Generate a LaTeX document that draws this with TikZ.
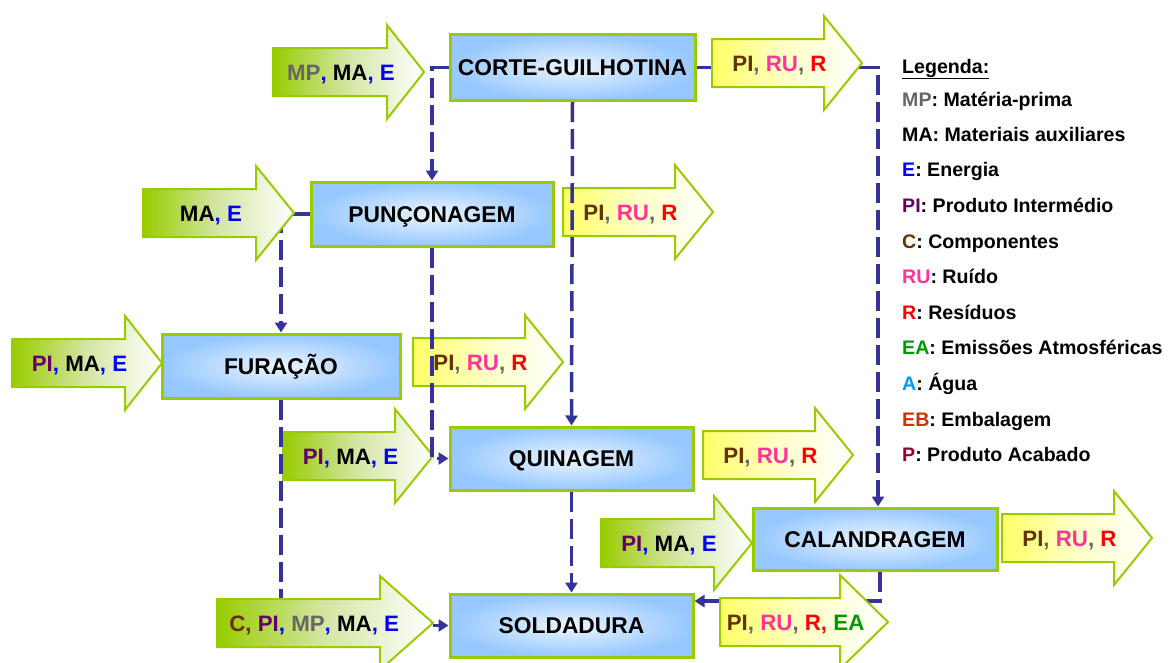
\documentclass[tikz,border=0pt]{standalone}
\usepackage{fontspec}
\setmainfont{Liberation Sans}
\usetikzlibrary{arrows.meta,calc}
\definecolor{bgreen}{RGB}{153,204,0}
\definecolor{midgreen}{RGB}{212,230,165}
\definecolor{lyellow}{RGB}{255,255,102}
\definecolor{myellow}{RGB}{255,255,200}
\definecolor{lblue}{RGB}{150,200,255}
\definecolor{cblue}{RGB}{236,245,255}
\definecolor{lineblue}{RGB}{51,51,153}
\definecolor{cgray}{RGB}{102,102,102}
\definecolor{cblu}{RGB}{0,0,255}
\definecolor{cpurple}{RGB}{102,0,102}
\definecolor{cbrown}{RGB}{102,51,0}
\definecolor{cpink}{RGB}{255,51,153}
\definecolor{cred}{RGB}{255,0,0}
\definecolor{cgreen}{RGB}{0,153,0}
\definecolor{cwater}{RGB}{0,153,255}
\definecolor{corange}{RGB}{204,51,0}
\definecolor{cwine}{RGB}{153,0,51}
\newcommand\cMP{\textcolor{cgray}{MP}}
\newcommand\cPIin{\textcolor{cpurple}{PI}}
\newcommand\cPIout{\textcolor{cbrown}{PI}}
\newcommand\cE{\textcolor{cblu}{E}}
\newcommand\bc{\textcolor{cblu}{,}}
\newcommand\gc{\textcolor{cgray}{,}}
\newcommand\cRU{\textcolor{cpink}{RU}}
\newcommand\cR{\textcolor{cred}{R}}
\newcommand\flowarr[7]{%
  \path[#2] (#3,#6-24) -- (#4,#6-24) -- (#4,#6-47) -- (#5,#6) -- (#4,#6+47) -- (#4,#6+24) -- (#3,#6+24) -- cycle;
  \node[arrtext] (#1) at ({#3+0.45*(#5-#3)},#6+8) {#7};}
\tikzset{
  x=1pt, y=-1pt,
  boxgeom/.style={inner sep=0pt, outer sep=1.5pt},
  procbox/.style={boxgeom, draw=bgreen, line width=3pt, shading=radial, inner color=cblue, outer color=lblue,
    font=\fontsize{22.8}{26}\selectfont\bfseries, text height=16.3pt, text depth=0pt},
  inarr/.style={draw=bgreen, line width=2pt, left color=bgreen, right color=white, middle color=midgreen},
  outarr/.style={draw=bgreen, line width=2pt, left color=lyellow, right color=white, middle color=myellow},
  arrtext/.style={anchor=base, font=\fontsize{22.3}{26}\selectfont\bfseries, inner sep=0pt},
  flow/.style={draw=lineblue, line width=3.5pt, dash pattern=on 20pt off 7pt, -{Triangle[length=10pt,width=12pt]}},
  legtext/.style={anchor=base west, inner sep=0pt, font=\fontsize{19.6}{22}\selectfont\bfseries}
}
\begin{document}
\begin{tikzpicture}
\useasboundingbox (0,0) rectangle (1171,662);
\path
  (572.5,67.5) coordinate (corteC)
  (432,214) coordinate (puncC)
  (281,366) coordinate (furC)
  (571.5,458.5) coordinate (quinC)
  (571.5,625.5) coordinate (soldC)
  (875,539) coordinate (calC);
% arrows beneath the connectors
\flowarr{ofur}{outarr}{413}{525}{563}{362}{\cPIout\gc{} \cRU\gc{} \cR}
\flowarr{opunc}{outarr}{563}{675}{713}{212}{\cPIout\gc{} \cRU\gc{} \cR}
\flowarr{iquin}{inarr}{283}{395}{433}{456}{\cPIin\bc{} MA\bc{} \cE}
% box anchors
\node[boxgeom, minimum width=245pt, minimum height=66pt] (corte) at (corteC) {};
\node[boxgeom, minimum width=242pt, minimum height=64pt] (punc) at (puncC) {};
\node[boxgeom, minimum width=238pt, minimum height=64pt] (fur) at (furC) {};
\node[boxgeom, minimum width=243pt, minimum height=63pt] (quin) at (quinC) {};
\node[boxgeom, minimum width=243pt, minimum height=63pt] (sold) at (soldC) {};
\node[boxgeom, minimum width=244pt, minimum height=62pt] (cal) at (calC) {};
\coordinate (soldin) at ($(sold.north east)!0.13!(sold.south east)$);
% connectors
\draw[flow] (corte.west) -| (punc.north);
\draw[flow] (corte.south) -- (quin.north);
\draw[flow] (corte.east) -| ([xshift=3pt]cal.north);
\draw[flow] (punc.west) -| (fur.north);
\draw[flow] (punc.south) |- (quin.west);
\draw[flow] (fur.south) |- (sold.west);
\draw[flow] (quin.south) -- (sold.north);
\draw[flow] ([xshift=5pt]cal.south) |- (soldin);
% arrows above the connectors
\flowarr{imp}{inarr}{273}{387}{424}{72}{\cMP\bc{} MA\bc{} \cE}
\flowarr{otop}{outarr}{712}{824}{862}{63}{\cPIout\gc{} \cRU\gc{} \cR}
\flowarr{ima}{inarr}{143}{256}{294}{213}{MA\bc{} \cE}
\flowarr{ifur}{inarr}{12}{125}{162}{363}{\cPIin\bc{} MA\bc{} \cE}
\flowarr{oquin}{outarr}{703}{815}{853}{455}{\cPIout\gc{} \cRU\gc{} \cR}
\flowarr{ical}{inarr}{601}{714}{752}{543}{\cPIin\bc{} MA\bc{} \cE}
\flowarr{ocal}{outarr}{1002}{1114}{1152}{538}{\cPIout\gc{} \cRU\gc{} \cR}
\flowarr{isold}{inarr}{217}{380}{433}{623}{\textcolor{cbrown}{C,} \cPIin\bc{} \cMP\bc{} MA\bc{} \cE}
\flowarr{osold}{outarr}{720}{840}{888}{622}{\cPIout\gc{} \cRU\gc{} \textcolor{cred}{R,} \textcolor{cgreen}{EA}}
% visible boxes
\node[procbox, minimum width=245pt, minimum height=66pt] (corteV) at (corteC) {CORTE-GUILHOTINA};
\node[procbox, minimum width=242pt, minimum height=64pt] (puncV) at (puncC) {PUNÇONAGEM};
\node[procbox, minimum width=238pt, minimum height=64pt] (furV) at (furC) {FURAÇÃO};
\node[procbox, minimum width=243pt, minimum height=63pt] (quinV) at (quinC) {QUINAGEM};
\node[procbox, minimum width=243pt, minimum height=63pt] (soldV) at (soldC) {SOLDADURA};
\node[procbox, minimum width=244pt, minimum height=62pt] (calV) at (calC) {CALANDRAGEM};
% legend
\node[legtext] (l0) at (902,73) {\underline{Legenda:}};
\node[legtext] (l1) at (902,106) {\textcolor{cgray}{MP}: Matéria-prima};
\node[legtext] (l2) at (902,141) {MA: Materiais auxiliares};
\node[legtext] (l3) at (902,176) {\textcolor{cblu}{E}: Energia};
\node[legtext] (l4) at (902,212) {\textcolor{cpurple}{PI}: Produto Intermédio};
\node[legtext] (l5) at (902,248) {\textcolor{cbrown}{C}: Componentes};
\node[legtext] (l6) at (902,283) {\textcolor{cpink}{RU}: Ruído};
\node[legtext] (l7) at (902,319) {\textcolor{cred}{R}: Resíduos};
\node[legtext] (l8) at (902,354) {\textcolor{cgreen}{EA}: Emissões Atmosféricas};
\node[legtext] (l9) at (902,390) {\textcolor{cwater}{A}: Água};
\node[legtext] (l10) at (902,426) {\textcolor{corange}{EB}: Embalagem};
\node[legtext] (l11) at (902,461) {\textcolor{cwine}{P}: Produto Acabado};
\end{tikzpicture}
\end{document}
